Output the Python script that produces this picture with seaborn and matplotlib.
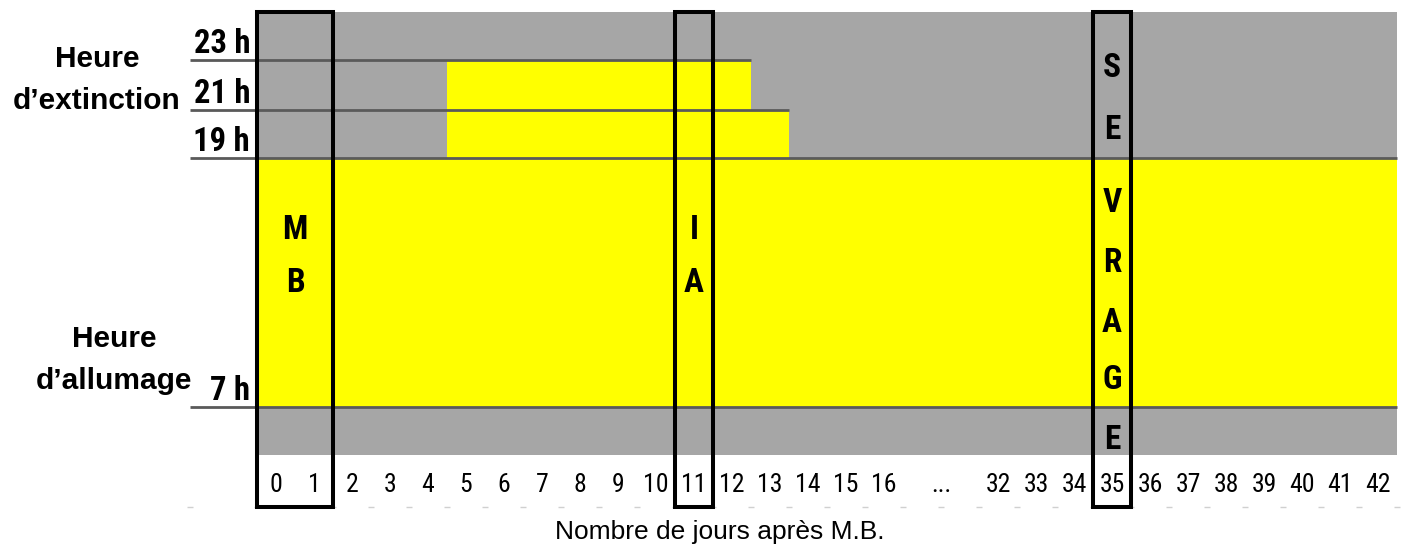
import numpy as np
import pandas as pd
import matplotlib.pyplot as plt
import matplotlib.transforms as mtransforms
from matplotlib import font_manager
from matplotlib.patches import Rectangle
import seaborn as sns

# --- data ---
jours = ["0", "1", "2", "3", "4", "5", "6", "7", "8", "9", "10", "11", "12",
         "13", "14", "15", "16", "...", "32", "33", "34", "35", "36", "37",
         "38", "39", "40", "41", "42"]
extinction = [19, 19, 19, 19, 19, 23, 23, 23, 23, 23, 23, 23, 23,
              21, 19, 19, 19, 19, 19, 19, 19, 19, 19, 19,
              19, 19, 19, 19, 19]
allumage = 7

ev_debut = ["0", "11", "35"]
ev_fin = ["1", "11", "35"]
ev_texte = ["MB", "IA", "SEVRAGE"]

GRIS = "#A6A6A6"
JAUNE = "#FFFF00"
ARIAL = ["Liberation Sans", "DejaVu Sans"]


# look for a narrow sans font (Calibri-like), else fall back to Liberation Sans
def police_etroite():
    fonts = font_manager.fontManager.ttflist
    for nom in ["Liberation Sans Narrow", "Roboto Condensed", "Open Sans Condensed",
                "DejaVu Sans Condensed", "Noto Sans Condensed"]:
        if any(f.name == nom for f in fonts):
            return [nom, "DejaVu Sans"], "normal"
    for nom in ["Roboto", "Noto Sans", "Open Sans", "DejaVu Sans"]:
        if any(f.name == nom and "condensed" in str(f.stretch) for f in fonts):
            return [nom, "DejaVu Sans"], "condensed"
    return ["Liberation Sans", "DejaVu Sans"], "normal"


NARROW, STRETCH = police_etroite()
ECHELLE = 1.0 if NARROW[0] != "Liberation Sans" else 0.88

df = pd.DataFrame({"jour": jours, "extinction": extinction})
# the "..." column is two cells wide: add an empty slot right after it
i_dots = jours.index("...")
df = pd.concat([df, pd.DataFrame({"jour": [" "], "extinction": [extinction[i_dots]]})],
               ignore_index=True)
df["duree"] = df["extinction"] - allumage
order = jours[:i_dots + 1] + [" "] + jours[i_dots + 1:]

sns.set_style("white")
plt.rcParams["text.color"] = "black"
fig = plt.figure(figsize=(14.02, 5.54), dpi=100)
ax = fig.add_axes([257 / 1402, 99 / 554, 1140 / 1402, 443 / 554])
ax.set_facecolor(GRIS)

sns.barplot(data=df, x="jour", y="duree", order=order, color=JAUNE, saturation=1,
            width=1, errorbar=None, linewidth=0, bottom=allumage, ax=ax)

# schematic hour axis (not linear)
h_ref = [5, 7, 19, 21, 23, 25]
px_ref = [0, 48, 297, 345, 395, 443]
ax.set_yscale("function", functions=(lambda h: np.interp(h, h_ref, px_ref),
                                     lambda v: np.interp(v, px_ref, h_ref)))
ax.set_ylim(5, 25)
ax.set_xlim(-0.5, len(order) - 0.5)
sns.despine(ax=ax, left=True, bottom=True)
ax.set_xlabel("")
ax.set_ylabel("")

# x ticks
pos = [order.index(j) + (0.5 if j == "..." else 0) for j in jours]
ax.set_xticks(pos, jours)
ax.tick_params(axis="x", length=0, pad=13, colors="black")
for t in ax.get_xticklabels():
    t.set_family(NARROW)
    t.set_stretch(STRETCH)
    t.set_fontsize(18.5 * ECHELLE)

# y ticks: hours, label sitting on the line
heures = sorted(set([allumage] + extinction))
ax.set_yticks(heures, [f"{h} h" for h in heures])
ax.yaxis.set_minor_locator(plt.NullLocator())
ax.tick_params(axis="y", length=0, pad=5, colors="black")
for t in ax.get_yticklabels():
    t.set_family(NARROW)
    t.set_stretch(STRETCH)
    t.set_fontsize(23.5 * ECHELLE)
    t.set_fontweight("bold")
    t.set_va("bottom")

# hour lines, running up to the last day that reaches that hour
x_left = -0.5 - 67 / 38
for h in heures:
    last = max(order.index(j) for j, e in zip(df["jour"], df["extinction"]) if e >= h)
    ax.plot([x_left, last + 0.5], [h, h], color="#5a5a5a", lw=2, zorder=4,
            clip_on=False, solid_capstyle="butt")

# faint tick marks under the labels
trans = mtransforms.blended_transform_factory(ax.transData, ax.transAxes)
y_bas = -52 / 443
bords = [x_left] + [k - 0.5 for k in range(len(order) + 1)]
ax.plot(bords, [y_bas] * len(bords), ls="none", marker="_", ms=5, mew=1,
        color="#d0d0d0", transform=trans, clip_on=False, zorder=1)

# event boxes
lettres_y = {"MB": [0.508, 0.388], "IA": [0.508, 0.388],
             "SEVRAGE": [0.874, 0.734, 0.569, 0.433, 0.298, 0.169, 0.034]}
for d, f, txt in zip(ev_debut, ev_fin, ev_texte):
    x0 = order.index(d) - 0.5
    x1 = order.index(f) + 0.5
    ax.add_patch(Rectangle((x0, y_bas), x1 - x0, 1 - y_bas, transform=trans,
                           fill=False, ec="black", lw=2.9, clip_on=False, zorder=6))
    for lettre, yy in zip(txt, lettres_y[txt]):
        ax.text((x0 + x1) / 2, yy, lettre, transform=trans, ha="center", va="center",
                family=NARROW, fontstretch=STRETCH, fontsize=24 * ECHELLE,
                fontweight="bold", zorder=7)

# side labels and axis title
fig.text(97 / 1402, 1 - 80 / 554, "Heure\nd\u2019extinction", ha="center", va="center",
         multialignment="center", family=ARIAL, fontsize=21.5, fontweight="bold",
         linespacing=1.6)
fig.text(114 / 1402, 1 - 360 / 554, "Heure\nd\u2019allumage", ha="center", va="center",
         multialignment="center", family=ARIAL, fontsize=21.5, fontweight="bold",
         linespacing=1.6)
fig.text(720 / 1402, 1 - 532 / 554, "Nombre de jours apr\u00e8s M.B.", ha="center",
         va="center", family=ARIAL, fontsize=19)

fig.savefig("out.png", dpi=100)
